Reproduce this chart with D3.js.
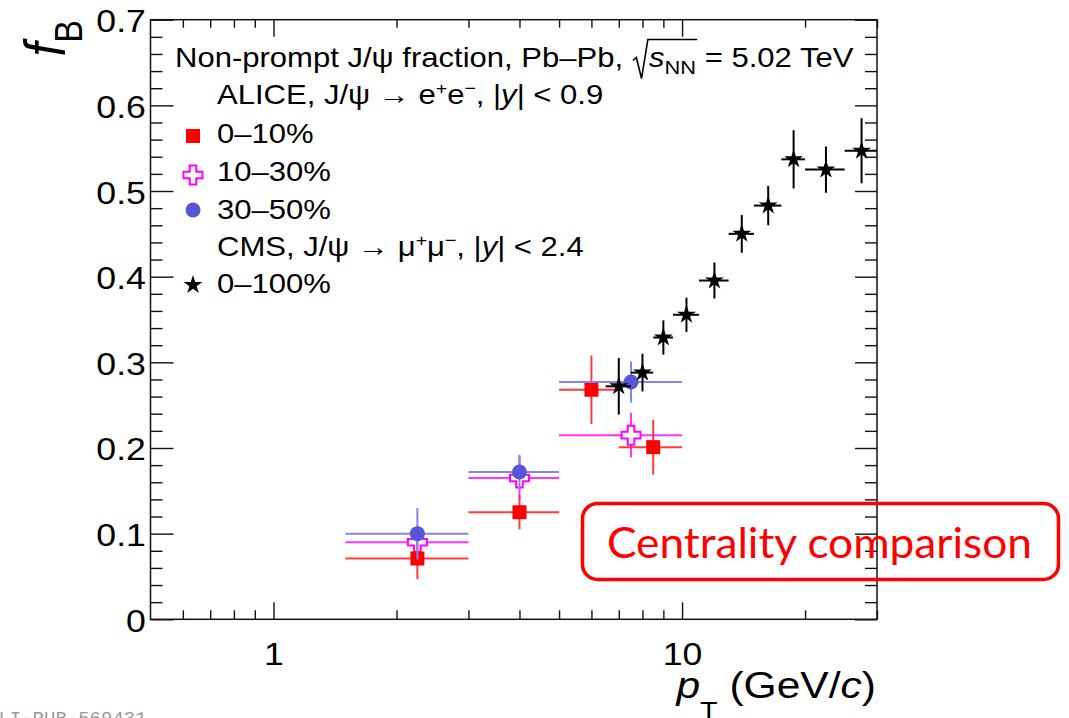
<!DOCTYPE html>
<html><head><meta charset="utf-8">
<script src="https://cdn.jsdelivr.net/npm/d3@7"></script>
<style>body{margin:0;background:#fff}svg{display:block}</style>
</head><body>
<svg id="chart" width="1069" height="718"></svg>
<script>
// ---------- data ----------
const xMajorTicks = [1, 10];
const xTickLabels = ["1", "10"];
const xMinorTicks = [0.6, 0.7, 0.8, 0.9, 2, 3, 4, 5, 6, 7, 8, 9, 20, 30];
const yMajorTicks = [0, 0.1, 0.2, 0.3, 0.4, 0.5, 0.6, 0.7];
const yTickLabels = ["0", "0.1", "0.2", "0.3", "0.4", "0.5", "0.6", "0.7"];
const yMinorTicks = [0.02,0.04,0.06,0.08,0.12,0.14,0.16,0.18,0.22,0.24,0.26,0.28,0.32,0.34,0.36,0.38,
                     0.42,0.44,0.46,0.48,0.52,0.54,0.56,0.58,0.62,0.64,0.66,0.68];

// ALICE 0-10%
const pt_0_10     = [2.25, 4.0, 6.0, 8.5];
const ptLow_0_10  = [1.5, 3, 5, 7];
const ptHigh_0_10 = [3, 5, 7, 10];
const fB_0_10     = [0.071, 0.125, 0.268, 0.201];
const err_0_10    = [0.024, 0.020, 0.040, 0.032];
// ALICE 10-30%
const pt_10_30     = [2.25, 4.0, 7.5];
const ptLow_10_30  = [1.5, 3, 5];
const ptHigh_10_30 = [3, 5, 10];
const fB_10_30     = [0.090, 0.165, 0.215];
const err_10_30    = [0.020, 0.025, 0.026];
// ALICE 30-50%
const pt_30_50     = [2.25, 4.0, 7.5];
const ptLow_30_50  = [1.5, 3, 5];
const ptHigh_30_50 = [3, 5, 10];
const fB_30_50     = [0.100, 0.172, 0.277];
const err_30_50    = [0.030, 0.020, 0.024];
// CMS 0-100%
const pt_cms     = [7.0, 8.0, 9.0, 10.25, 12.0, 14.0, 16.25, 18.75, 22.5, 27.5];
const ptLow_cms  = [6.5, 7.5, 8.5, 9.5, 11, 13, 15, 17.5, 20, 25];
const ptHigh_cms = [7.5, 8.5, 9.5, 11, 13, 15, 17.5, 20, 25, 30];
const fB_cms     = [0.272, 0.288, 0.329, 0.3555, 0.3955, 0.450, 0.483, 0.537, 0.525, 0.547];
const err_cms    = [0.033, 0.022, 0.020, 0.020, 0.021, 0.022, 0.023, 0.034, 0.027, 0.038];

// ---------- layout ----------
const SX = 1.15;            // horizontal text stretch seen in the picture
const FONT = "'Liberation Sans', Arial, Helvetica, sans-serif";
const L = 150.5, R = 877, T = 19.7, B = 619.3;
const svg = d3.select("#chart");
const x = d3.scaleLog().domain([0.5, 30]).range([L, R]);
const y = d3.scaleLinear().domain([0, 0.7]).range([B, T]);

function zip(pt, lo, hi, v, e) { return pt.map((p, i) => ({pt: p, lo: lo[i], hi: hi[i], v: v[i], e: e[i]})); }
const s010 = zip(pt_0_10, ptLow_0_10, ptHigh_0_10, fB_0_10, err_0_10);
const s1030 = zip(pt_10_30, ptLow_10_30, ptHigh_10_30, fB_10_30, err_10_30);
const s3050 = zip(pt_30_50, ptLow_30_50, ptHigh_30_50, fB_30_50, err_30_50);
const scms = zip(pt_cms, ptLow_cms, ptHigh_cms, fB_cms, err_cms);

// ---------- axes ----------
function styleAxis(g) {
  g.select(".domain").remove();
  g.selectAll("line").attr("stroke", "#111").attr("stroke-width", 1.4);
}
svg.append("g").attr("transform", `translate(0,${B})`)
  .call(d3.axisBottom(x).tickValues(xMinorTicks).tickSizeInner(-9).tickSizeOuter(0).tickFormat(""))
  .call(styleAxis);
const xb = svg.append("g").attr("transform", `translate(0,${B})`)
  .call(d3.axisBottom(x).tickValues(xMajorTicks).tickSizeInner(-17).tickSizeOuter(0)
        .tickPadding(0).tickFormat((d, i) => xTickLabels[i]))
  .call(styleAxis);
xb.selectAll("text").attr("y", 46).attr("dy", null)
  .attr("font-family", FONT).attr("font-size", 31).attr("fill", "#000")
  .attr("transform", `scale(${SX},1)`);

svg.append("g").attr("transform", `translate(0,${T})`)
  .call(d3.axisTop(x).tickValues(xMinorTicks).tickSizeInner(-8).tickSizeOuter(0).tickFormat(""))
  .call(styleAxis);
svg.append("g").attr("transform", `translate(0,${T})`)
  .call(d3.axisTop(x).tickValues(xMajorTicks).tickSizeInner(-17).tickSizeOuter(0).tickFormat(""))
  .call(styleAxis);

svg.append("g").attr("transform", `translate(${L},0)`)
  .call(d3.axisLeft(y).tickValues(yMinorTicks).tickSizeInner(-12).tickSizeOuter(0).tickFormat(""))
  .call(styleAxis);
const yl = svg.append("g").attr("transform", `translate(${L},0)`)
  .call(d3.axisLeft(y).tickValues(yMajorTicks).tickSizeInner(-23).tickSizeOuter(0)
        .tickPadding(4).tickFormat((d, i) => yTickLabels[i]))
  .call(styleAxis);
yl.selectAll("text").attr("dy", null).attr("y", 12)
  .attr("font-family", FONT).attr("font-size", 31).attr("fill", "#000")
  .attr("transform", `scale(${SX},1)`);

svg.append("g").attr("transform", `translate(${R},0)`)
  .call(d3.axisRight(y).tickValues(yMinorTicks).tickSizeInner(-12).tickSizeOuter(0).tickFormat(""))
  .call(styleAxis);
svg.append("g").attr("transform", `translate(${R},0)`)
  .call(d3.axisRight(y).tickValues(yMajorTicks).tickSizeInner(-22).tickSizeOuter(0).tickFormat(""))
  .call(styleAxis);

svg.append("rect").attr("x", L).attr("y", T).attr("width", R - L).attr("height", B - T)
  .attr("fill", "none").attr("stroke", "#111").attr("stroke-width", 1.5);

// ---------- rich text helper ----------
function rich(parent, tx, ty, parts, opts = {}) {
  const g = parent.append("g")
    .attr("transform", `translate(${tx},${ty}) scale(${opts.sx || SX},1)` + (opts.rot ? ` rotate(${opts.rot})` : ""));
  const t = g.append("text").attr("font-family", FONT).attr("font-size", opts.size || 27)
    .attr("fill", opts.fill || "#000").attr("text-anchor", opts.anchor || "start");
  let cur = 0;
  const spans = parts.map(p => {
    const off = p.off || 0;
    const s = t.append("tspan").text(p.t).attr("dy", off - cur);
    if (p.dx) s.attr("dx", p.dx);
    if (p.size) s.attr("font-size", p.size);
    if (p.it) s.attr("font-style", "italic");
    cur = off;
    return s;
  });
  return {g, t, spans};
}

// ---------- axis titles ----------
rich(svg, 65, 20, [{t: "f", it: true, size: 50}, {t: "B", size: 34, off: 14.5}],
     {anchor: "end", rot: -90});
rich(svg, 876, 698, [
  {t: "p", it: true, size: 37}, {t: "T", size: 25, off: 22},
  {t: " (GeV/", size: 37}, {t: "c", it: true, size: 37}, {t: ")", size: 37}
], {anchor: "end"});

// ---------- markers ----------
function squareM(g, cx, cy, col) {
  g.append("rect").attr("x", cx - 7).attr("y", cy - 7).attr("width", 14).attr("height", 14).attr("fill", col);
}
function circleM(g, cx, cy, col) {
  g.append("circle").attr("cx", cx).attr("cy", cy).attr("r", 7.5).attr("fill", col);
}
const crossPath = (() => { const a = 3.3, l = 9.5;
  return `M${-a},${-l}H${a}V${-a}H${l}V${a}H${a}V${l}H${-a}V${a}H${-l}V${-a}H${-a}Z`; })();
function crossM(g, cx, cy, col) {
  g.append("path").attr("d", crossPath).attr("transform", `translate(${cx},${cy})`)
    .attr("fill", "#fff").attr("stroke", col).attr("stroke-width", 2);
}
const starPath = d3.symbol(d3.symbolStar, 110)();
function starM(g, cx, cy, col) {
  g.append("path").attr("d", starPath).attr("transform", `translate(${cx},${cy})`).attr("fill", col);
}

function series(data, lineCol, markCol, marker) {
  const g = svg.append("g");
  data.forEach(d => {
    g.append("line").attr("x1", x(d.lo)).attr("x2", x(d.hi)).attr("y1", y(d.v)).attr("y2", y(d.v))
      .attr("stroke", lineCol).attr("stroke-width", 2);
    g.append("line").attr("x1", x(d.pt)).attr("x2", x(d.pt)).attr("y1", y(d.v - d.e)).attr("y2", y(d.v + d.e))
      .attr("stroke", lineCol).attr("stroke-width", 2);
  });
  data.forEach(d => marker(g, x(d.pt), y(d.v), markCol));
}
series(s1030, "#ff33ff", "#ff00ff", crossM);
series(s010, "#ff3a3a", "#ff0000", squareM);
series(s3050, "#8484ec", "#5656d6", circleM);
series(scms, "#000", "#000", starM);

// ---------- legend ----------
const lg = svg.append("g");
const head = rich(lg, 175, 66.5, [
  {t: "Non-prompt J/ψ fraction, Pb–Pb, "},
  {t: "s", it: true, dx: 15},
  {t: "NN", size: 19, off: 7},
  {t: " = 5.02 TeV", off: 0}
]);
{
  const sp = head.spans.map(s => s.node().getComputedTextLength());
  const r0 = sp[0] + 1;
  const end = sp[0] + 15 + sp[1] + sp[2] + 1;
  head.g.append("path")
    .attr("d", `M${r0},-6L${r0 + 3},-9L${r0 + 7.5},12L${r0 + 13},-27L${end},-27`)
    .attr("fill", "none").attr("stroke", "#000").attr("stroke-width", 1.4);
}
rich(lg, 217, 104, [
  {t: "ALICE, J/ψ → e"}, {t: "+", size: 17, off: -10}, {t: "e", off: 0},
  {t: "−", size: 17, off: -10}, {t: ", |", off: 0}, {t: "y", it: true}, {t: "| < 0.9"}
]);
rich(lg, 217, 143, [{t: "0–10%"}]);
rich(lg, 217, 181, [{t: "10–30%"}]);
rich(lg, 217, 218.5, [{t: "30–50%"}]);
rich(lg, 217, 255.5, [
  {t: "CMS, J/ψ → μ"}, {t: "+", size: 17, off: -10}, {t: "μ", off: 0},
  {t: "−", size: 17, off: -10}, {t: ", |", off: 0}, {t: "y", it: true}, {t: "| < 2.4"}
]);
rich(lg, 217, 292.5, [{t: "0–100%"}]);
squareM(lg, 193, 136, "#ff0000");
crossM(lg, 193, 175, "#ff00ff");
circleM(lg, 193, 210, "#5656d6");
starM(lg, 193, 285, "#000");

// ---------- annotation ----------
svg.append("rect").attr("x", 582.5).attr("y", 503.5).attr("width", 476).attr("height", 76)
  .attr("rx", 15).attr("fill", "none").attr("stroke", "#ff0000").attr("stroke-width", 3.5);
svg.append("text").attr("x", 607).attr("y", 558).attr("font-family", "Lato, 'Open Sans', sans-serif")
  .attr("font-size", 42).attr("fill", "#ff0000")
  .attr("textLength", 425).attr("lengthAdjust", "spacingAndGlyphs")
  .text("Centrality comparison");

// footer id (cut off at the bottom edge, as in the reference)
svg.append("text").attr("x", -13).attr("y", 724).attr("font-family", "'Liberation Mono', monospace")
  .attr("font-size", 19).attr("fill", "#999").text("ALI-PUB-569431");
</script>
</body></html>
